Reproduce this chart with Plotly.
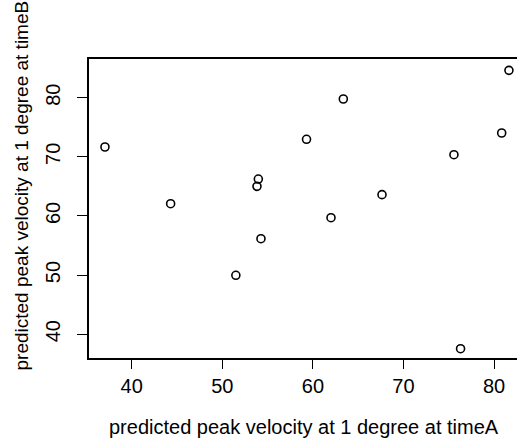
import plotly.graph_objects as go

# Data
time_a = [37.05, 44.3, 51.5, 53.98, 53.83, 54.27, 59.3, 63.36, 62.0, 67.63, 75.57, 76.3, 80.84, 81.64]
time_b = [71.66, 62.07, 49.95, 66.24, 65.0, 56.14, 72.96, 79.78, 59.7, 63.6, 70.36, 37.53, 74.03, 84.63]

x_ticks = [40, 50, 60, 70, 80]
y_ticks = [40, 50, 60, 70, 80]

x_title = "predicted peak velocity at 1 degree at timeA"
y_title = "predicted peak velocity at 1 degree at timeB"

FONT = "Liberation Sans, Arial, sans-serif"

fig = go.Figure(
    go.Scatter(
        x=time_a,
        y=time_b,
        mode="markers",
        marker=dict(symbol="circle-open", size=8, color="black", line=dict(width=1.6, color="black")),
        hoverinfo="x+y",
    )
)

fig.update_layout(
    width=517,
    height=438,
    margin=dict(l=89, r=0, t=59, b=80),
    paper_bgcolor="white",
    plot_bgcolor="white",
    showlegend=False,
    font=dict(family=FONT, size=20, color="black"),
    xaxis=dict(
        range=[35.29, 82.53],
        tickvals=x_ticks,
        ticktext=[str(v) for v in x_ticks],
        ticks="outside",
        ticklen=9,
        tickwidth=1,
        tickcolor="black",
        showline=True,
        linecolor="black",
        linewidth=1.8,
        mirror=True,
        showgrid=False,
        zeroline=False,
        tickfont=dict(family=FONT, size=20, color="black"),
    ),
    yaxis=dict(
        range=[35.96, 86.55],
        tickvals=y_ticks,
        ticktext=[str(v) for v in y_ticks],
        ticks="outside",
        ticklen=10,
        tickwidth=1,
        tickcolor="black",
        tickangle=-90,
        ticklabelstandoff=9,
        showline=True,
        linecolor="black",
        linewidth=1.8,
        mirror=False,
        showgrid=False,
        zeroline=False,
        tickfont=dict(family=FONT, size=20, color="black"),
    ),
    annotations=[
        dict(
            text=x_title, xref="paper", yref="paper",
            x=0.5023, y=-0.2308, xanchor="center", yanchor="middle",
            showarrow=False, font=dict(family=FONT, size=20, color="black"),
        ),
        dict(
            text=y_title, xref="paper", yref="paper",
            x=-0.1554, y=0.5786, xanchor="center", yanchor="middle",
            textangle=-90, showarrow=False,
            font=dict(family=FONT, size=19, color="black"),
        ),
    ],
)

# remove the default 8px page margin so the figure fills the window exactly
fig.write_html(
    "out.html",
    config={"displayModeBar": False},
    post_script="document.body.style.margin='0px';",
)
